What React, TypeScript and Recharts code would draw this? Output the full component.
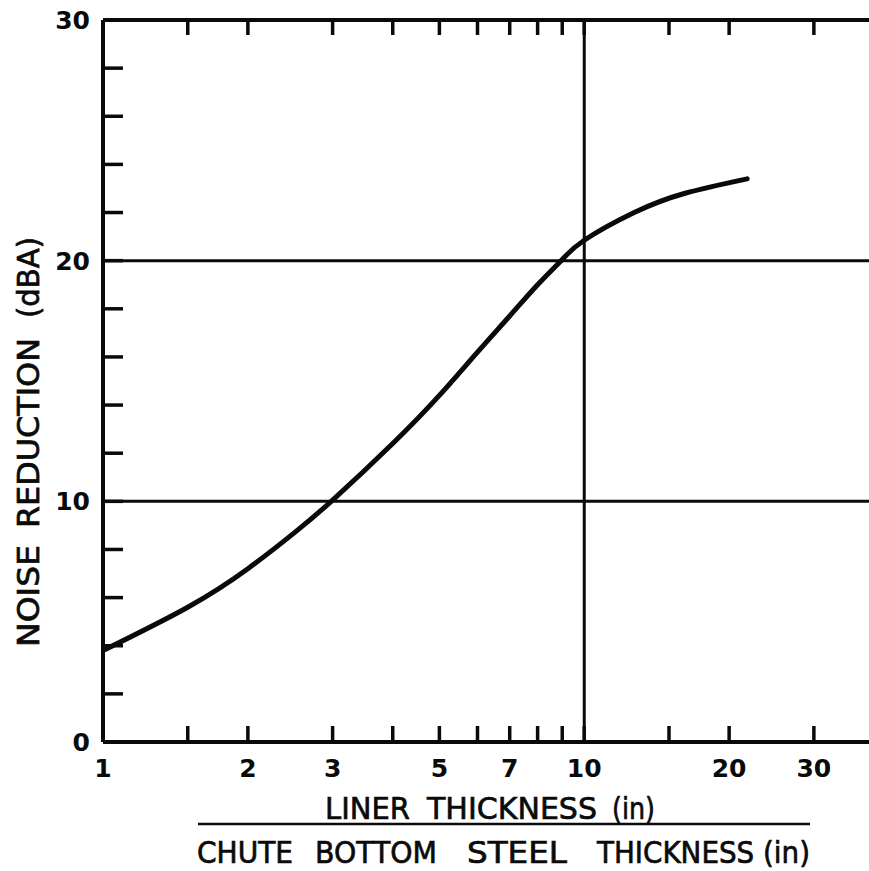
import React from 'react'
import { LineChart, Line, XAxis, YAxis, ReferenceLine } from 'recharts'

// liner thickness (in) vs noise reduction (dBA)
const linerThickness = [1, 1.5, 2, 2.5, 3, 4, 5, 6, 7, 8, 9, 10, 12.7, 16.2, 21.8]
const noiseReduction = [3.8, 5.6, 7.2, 8.7, 10.05, 12.4, 14.4, 16.2, 17.7, 19.0, 20.05, 20.85, 22.0, 22.8, 23.4]

const xTicks = [1, 1.5, 2, 3, 4, 5, 6, 7, 8, 9, 10, 15, 20, 30]
const xLabels = [1, 2, 3, 5, 7, 10, 20, 30]
const yTicks = [0, 2, 4, 6, 8, 10, 12, 14, 16, 18, 20, 22, 24, 26, 28, 30]
const yLabels = [0, 10, 20, 30]
const gridX = [10]
const gridY = [10, 20]

const data = linerThickness.map((x, i) => ({ x, y: noiseReduction[i] }))

const INK = '#0a0a0a'
const NUM_FONT = { fontFamily: '"DejaVu Sans"', fontWeight: 700, fontSize: 25, fill: INK }
const TITLE_FONT = {
  fontFamily: '"DejaVu Sans"',
  fontWeight: 400,
  fontSize: 31,
  fill: INK,
  stroke: INK,
  strokeWidth: 0.7,
}

const BottomTick = (props: any) => {
  const { x, y, payload } = props
  const v = payload.value
  return (
    <g>
      <line x1={x} y1={y} x2={x} y2={y - 16} stroke={INK} strokeWidth={3.5} />
      {xLabels.includes(v) && (
        <text x={x} y={y + 35} textAnchor="middle" style={NUM_FONT}>
          {v}
        </text>
      )}
    </g>
  )
}

const TopTick = (props: any) => {
  const { x, y } = props
  return <line x1={x} y1={y} x2={x} y2={y + 15} stroke={INK} strokeWidth={3.5} />
}

const LeftTick = (props: any) => {
  const { x, y, payload } = props
  const v = payload.value
  return (
    <g>
      <line x1={x} y1={y} x2={x + 20} y2={y} stroke={INK} strokeWidth={3.5} />
      {yLabels.includes(v) && (
        <text x={x - 13} y={y + 9} textAnchor="end" style={NUM_FONT}>
          {v}
        </text>
      )}
    </g>
  )
}

const RightTick = (props: any) => {
  const { x, y } = props
  return <line x1={x} y1={y} x2={x - 20} y2={y} stroke={INK} strokeWidth={3.5} />
}

// words of the bottom titles with their measured left/right edges
const line1 = [
  { w: 'LINER', x0: 325, x1: 410 },
  { w: 'THICKNESS', x0: 427, x1: 597 },
  { w: '(in)', x0: 612, x1: 655 },
]
const line2 = [
  { w: 'CHUTE', x0: 197, x1: 293 },
  { w: 'BOTTOM', x0: 315, x1: 437 },
  { w: 'STEEL', x0: 467, x1: 567 },
  { w: 'THICKNESS (in)', x0: 597, x1: 810 },
]
// y title words, bottom edge to top edge
const yTitle = [
  { w: 'NOISE', y0: 647, y1: 545 },
  { w: 'REDUCTION', y0: 528, y1: 338 },
  { w: '(dBA)', y0: 318, y1: 237 },
]

export default function App() {
  return (
    <div
      style={{
        position: 'absolute',
        left: 0,
        top: 0,
        width: 869,
        height: 871,
        overflow: 'hidden',
        background: '#fff',
      }}
    >
      <LineChart width={900} height={871} data={data} margin={{ top: 10, right: 16, bottom: 89, left: 43 }}>
        <XAxis
          xAxisId="bottom"
          dataKey="x"
          type="number"
          scale="log"
          domain={[1, 40]}
          allowDataOverflow
          ticks={xTicks}
          interval={0}
          height={40}
          tickSize={0}
          tickMargin={0}
          tickLine={false}
          axisLine={{ stroke: INK, strokeWidth: 4 }}
          tick={BottomTick}
        />
        <XAxis
          xAxisId="top"
          orientation="top"
          dataKey="x"
          type="number"
          scale="log"
          domain={[1, 40]}
          allowDataOverflow
          ticks={xTicks}
          interval={0}
          height={10}
          tickSize={0}
          tickMargin={0}
          tickLine={false}
          axisLine={{ stroke: INK, strokeWidth: 4 }}
          tick={TopTick}
        />
        <YAxis
          yAxisId="left"
          type="number"
          domain={[0, 30]}
          ticks={yTicks}
          interval={0}
          width={60}
          tickSize={0}
          tickMargin={0}
          tickLine={false}
          axisLine={{ stroke: INK, strokeWidth: 4 }}
          tick={LeftTick}
        />
        <YAxis
          yAxisId="right"
          orientation="right"
          type="number"
          domain={[0, 30]}
          ticks={yTicks}
          interval={0}
          width={10}
          tickSize={0}
          tickMargin={0}
          tickLine={false}
          axisLine={{ stroke: INK, strokeWidth: 4 }}
          tick={RightTick}
        />
        {gridY.map((v) => (
          <ReferenceLine key={'gy' + v} y={v} xAxisId="bottom" yAxisId="left" stroke={INK} strokeWidth={3} />
        ))}
        {gridX.map((v) => (
          <ReferenceLine key={'gx' + v} x={v} xAxisId="bottom" yAxisId="left" stroke={INK} strokeWidth={3} />
        ))}
        <Line
          xAxisId="bottom"
          yAxisId="left"
          type="natural"
          dataKey="y"
          stroke={INK}
          strokeWidth={5}
          strokeLinecap="round"
          dot={false}
          isAnimationActive={false}
        />
      </LineChart>
      <svg
        width={869}
        height={871}
        style={{ position: 'absolute', left: 0, top: 0, pointerEvents: 'none' }}
      >
        {line1.map((t) => (
          <text
            key={'a' + t.x0}
            x={t.x0}
            y={819}
            textLength={t.x1 - t.x0}
            lengthAdjust="spacingAndGlyphs"
            style={TITLE_FONT}
          >
            {t.w}
          </text>
        ))}
        <line x1={198} y1={824} x2={810} y2={824} stroke={INK} strokeWidth={2.5} />
        {line2.map((t) => (
          <text
            key={'b' + t.x0}
            x={t.x0}
            y={863}
            textLength={t.x1 - t.x0}
            lengthAdjust="spacingAndGlyphs"
            style={TITLE_FONT}
          >
            {t.w}
          </text>
        ))}
        {yTitle.map((t) => (
          <text
            key={'c' + t.y0}
            transform={`translate(39, ${t.y0}) rotate(-90)`}
            x={0}
            y={0}
            textLength={t.y0 - t.y1}
            lengthAdjust="spacingAndGlyphs"
            style={{ ...TITLE_FONT, fontSize: 30 }}
          >
            {t.w}
          </text>
        ))}
      </svg>
    </div>
  )
}
